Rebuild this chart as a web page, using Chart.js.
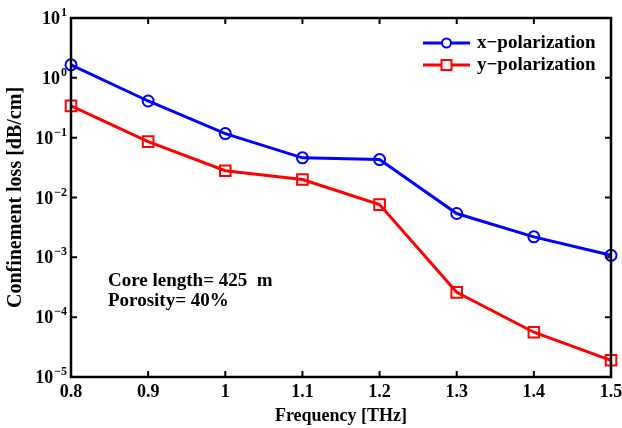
<!DOCTYPE html>
<html>
<head>
<meta charset="utf-8">
<script src="https://cdn.jsdelivr.net/npm/chart.js@4.4.1/dist/chart.umd.min.js"></script>
<style>
  html, body { margin: 0; padding: 0; background: #fff; }
  #wrap { width: 622px; height: 428px; position: relative; }
</style>
</head>
<body>
<div id="wrap"><canvas id="lossChart" width="622" height="428"></canvas></div>
<script>
// values
const freq = [0.8, 0.9, 1.0, 1.1, 1.2, 1.3, 1.4, 1.5];
const xPol = [1.65, 0.41, 0.117, 0.046, 0.043, 0.0054, 0.0022, 0.00108];
const yPol = [0.34, 0.086, 0.028, 0.020, 0.0076, 0.00026, 0.000056, 0.000019];
const decades = [-5, -4, -3, -2, -1, 0, 1];
const noteLines = ["Core length= 425  m", "Porosity= 40%"];

const serif = "'Liberation Serif', 'DejaVu Serif', serif";

const toPoints = (xs, ys) => xs.map((x, i) => ({x: x, y: ys[i]}));

// box, inward ticks, decade labels, legend and note
const matlabLook = {
    id: "matlabLook",
    afterDraw(chart) {
        const ctx = chart.ctx;
        const a = chart.chartArea;
        const xs = chart.scales.x, ys = chart.scales.y;
        ctx.save();
        ctx.strokeStyle = "#000";
        ctx.lineWidth = 2.5;
        ctx.strokeRect(a.left, a.top, a.right - a.left, a.bottom - a.top);

        ctx.lineWidth = 2;
        ctx.beginPath();
        freq.forEach(f => {
            const px = xs.getPixelForValue(f);
            ctx.moveTo(px, a.bottom); ctx.lineTo(px, a.bottom - 6);
            ctx.moveTo(px, a.top); ctx.lineTo(px, a.top + 6);
        });
        decades.forEach(d => {
            const py = ys.getPixelForValue(Math.pow(10, d));
            ctx.moveTo(a.left, py); ctx.lineTo(a.left + 6, py);
            ctx.moveTo(a.right, py); ctx.lineTo(a.right - 6, py);
        });
        ctx.stroke();

        // y labels 10^n
        ctx.fillStyle = "#000";
        ctx.textBaseline = "alphabetic";
        decades.forEach(d => {
            const py = ys.getPixelForValue(Math.pow(10, d));
            ctx.font = "bold 12px " + serif;
            const exp = d < 0 ? "\u2212" + (-d) : String(d);
            const ew = ctx.measureText(exp).width;
            ctx.textAlign = "right";
            ctx.fillText(exp, a.left - 4, py - 2);
            ctx.font = "bold 18px " + serif;
            ctx.fillText("10", a.left - 5 - ew, py + 6);
        });

        // legend
        const sets = chart.data.datasets;
        const lx0 = 423, lx1 = 470, ly = [43, 65];
        sets.forEach((ds, i) => {
            ctx.strokeStyle = ds.borderColor;
            ctx.lineWidth = 3;
            ctx.beginPath();
            ctx.moveTo(lx0, ly[i]); ctx.lineTo(lx1, ly[i]);
            ctx.stroke();
            ctx.lineWidth = 2;
            ctx.fillStyle = "#fff";
            const cx = (lx0 + lx1) / 2;
            if (ds.pointStyle === "circle") {
                ctx.beginPath(); ctx.arc(cx, ly[i], 4.5, 0, Math.PI * 2); ctx.fill(); ctx.stroke();
            } else {
                ctx.fillRect(cx - 5, ly[i] - 5, 10, 10); ctx.strokeRect(cx - 5, ly[i] - 5, 10, 10);
            }
            ctx.fillStyle = "#000";
            ctx.font = "bold 19px " + serif;
            ctx.textAlign = "left";
            ctx.fillText(ds.label, 477, ly[i] + 5);
        });

        // note
        ctx.font = "bold 19px " + serif;
        ctx.textAlign = "left";
        noteLines.forEach((t, i) => ctx.fillText(t, 108, 286 + i * 20));
        ctx.restore();
    }
};

new Chart("lossChart", {
    type: "line",
    data: {
        datasets: [
            {
                label: "x\u2212polarization",
                data: toPoints(freq, xPol),
                borderColor: "rgb(0,0,255)",
                backgroundColor: "rgba(255,255,255,0)",
                borderWidth: 3,
                pointStyle: "circle",
                pointRadius: 5.5,
                pointBorderWidth: 2,
                fill: false
            },
            {
                label: "y\u2212polarization",
                data: toPoints(freq, yPol),
                borderColor: "rgb(255,0,0)",
                backgroundColor: "rgba(255,255,255,0)",
                borderWidth: 3,
                pointStyle: "rect",
                pointRadius: 7.5,
                pointBorderWidth: 2,
                fill: false
            }
        ]
    },
    options: {
        responsive: false,
        animation: false,
        clip: false,
        layout: { padding: { top: 18, right: 11, left: 0, bottom: 0 } },
        plugins: { legend: { display: false }, tooltip: { enabled: false } },
        scales: {
            x: {
                type: "linear",
                min: 0.8, max: 1.5,
                afterBuildTicks: s => { s.ticks = freq.map(v => ({value: v})); },
                afterFit: s => { s.height = 51; s.paddingLeft = 0; s.paddingRight = 0; },
                ticks: {
                    color: "#000",
                    font: { family: serif, size: 18, weight: "bold" },
                    padding: 5,
                    callback: v => String(Math.round(v * 10) / 10)
                },
                grid: { display: false, drawTicks: false },
                border: { display: false },
                title: {
                    display: true, text: "Frequency [THz]", color: "#000",
                    font: { family: serif, size: 18, weight: "bold" },
                    padding: { top: 2, bottom: 1 }
                }
            },
            y: {
                type: "logarithmic",
                min: 1e-5, max: 10,
                afterBuildTicks: s => { s.ticks = decades.map(d => ({value: Math.pow(10, d)})); },
                afterFit: s => { s.width = 71; s.paddingTop = 0; s.paddingBottom = 0; },
                ticks: { display: false },
                grid: { display: false, drawTicks: false },
                border: { display: false },
                title: {
                    display: true, text: "Confinement loss [dB/cm]", color: "#000",
                    font: { family: serif, size: 20, weight: "bold" },
                    padding: { top: 4, bottom: 0 }
                }
            }
        }
    },
    plugins: [matlabLook]
});
</script>
</body>
</html>
